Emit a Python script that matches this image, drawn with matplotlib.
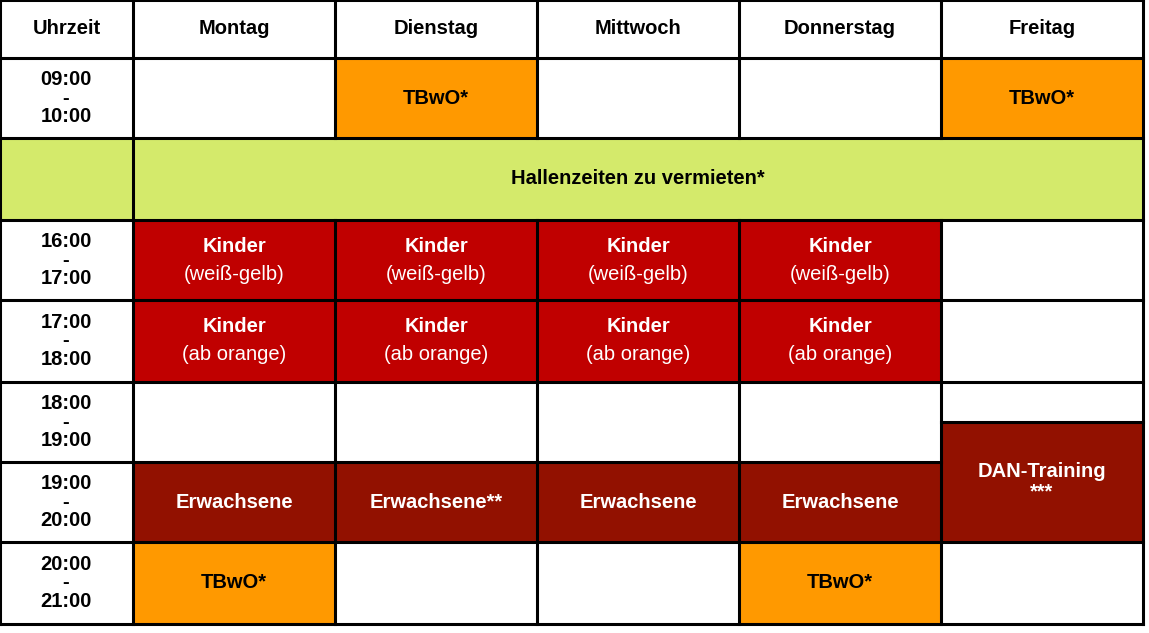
import matplotlib.pyplot as plt
from matplotlib.patches import Rectangle

plt.rcParams['font.family'] = ['Liberation Sans', 'DejaVu Sans']

days = ["Uhrzeit", "Montag", "Dienstag", "Mittwoch", "Donnerstag", "Freitag"]
times = ["09:00\n-\n10:00", "", "16:00\n-\n17:00", "17:00\n-\n18:00",
         "18:00\n-\n19:00", "19:00\n-\n20:00", "20:00\n-\n21:00"]

# grid edges in pixels
col_edges = [0, 133, 335, 537, 739, 941, 1143]
row_edges = [0, 58, 138, 220, 300, 382, 462, 542, 624]

ORANGE = "#ff9900"
GREEN = "#d4ea6b"
RED = "#c00000"
DARK = "#921100"

# (first col, last col, top edge, bottom edge, text, colour, bold first line only)
cells = [
    (2, 2, 58, 138, "TBwO*", ORANGE, False),
    (5, 5, 58, 138, "TBwO*", ORANGE, False),
    (0, 0, 138, 220, "", GREEN, False),
    (1, 5, 138, 220, "Hallenzeiten zu vermieten*", GREEN, False),
]
for c in range(1, 5):
    cells.append((c, c, 220, 300, "Kinder\n(weiß-gelb)", RED, True))
    cells.append((c, c, 300, 382, "Kinder\n(ab orange)", RED, True))
adult = ["Erwachsene", "Erwachsene**", "Erwachsene", "Erwachsene"]
for c, t in zip(range(1, 5), adult):
    cells.append((c, c, 462, 542, t, DARK, False))
cells.append((5, 5, 422, 542, "DAN-Training\n***", DARK, False))
cells.append((1, 1, 542, 624, "TBwO*", ORANGE, False))
cells.append((4, 4, 542, 624, "TBwO*", ORANGE, False))

fig = plt.figure(figsize=(11.49, 6.33), dpi=100)
ax = fig.add_axes([0, 0, 1, 1])
ax.set_xlim(0, 1149)
ax.set_ylim(633, 0)
ax.axis("off")

fs = 14.5
for x0, x1, y0, y1, text, color, split in cells:
    xa, xb = col_edges[x0], col_edges[x1 + 1]
    ax.add_patch(Rectangle((xa, y0), xb - xa, y1 - y0, facecolor=color, edgecolor="none", zorder=1))
    txtcol = "black" if color in (ORANGE, GREEN) else "white"
    cx, cy = (xa + xb) / 2, (y0 + y1) / 2
    if split:
        a, b = text.split("\n")
        ax.text(cx, cy - 14, a, ha="center", va="center", fontsize=fs, fontweight="bold", color=txtcol, zorder=3)
        ax.text(cx, cy + 14, b, ha="center", va="center", fontsize=fs, color=txtcol, zorder=3)
    elif text:
        ax.text(cx, cy, text, ha="center", va="center", fontsize=fs, fontweight="bold",
                color=txtcol, linespacing=1.1, zorder=3)

for i, d in enumerate(days):
    ax.text((col_edges[i] + col_edges[i + 1]) / 2, 29, d, ha="center", va="center",
            fontsize=fs, fontweight="bold", zorder=3)
for i, t in enumerate(times):
    if t:
        ax.text(66, (row_edges[i + 1] + row_edges[i + 2]) / 2, t, ha="center", va="center",
                fontsize=fs, fontweight="bold", linespacing=0.95, zorder=3)

lw = 2.2
# horizontal lines, breaking for the Friday DAN block
for y in row_edges:
    if y == 462:
        ax.plot([0, col_edges[5]], [y, y], color="black", lw=lw, zorder=2)
    elif y == 220:
        ax.plot([0, 1143], [y, y], color="black", lw=lw, zorder=2)
    else:
        ax.plot([0, 1143], [y, y], color="black", lw=lw, zorder=2)
ax.plot([col_edges[5], 1143], [422, 422], color="black", lw=lw, zorder=2)
for i, x in enumerate(col_edges):
    if 1 < i < 6:
        ax.plot([x, x], [0, 138], color="black", lw=lw, zorder=2)
        ax.plot([x, x], [220, 624], color="black", lw=lw, zorder=2)
    else:
        ax.plot([x, x], [0, 624], color="black", lw=lw, zorder=2)

fig.savefig("out.png", dpi=100)
